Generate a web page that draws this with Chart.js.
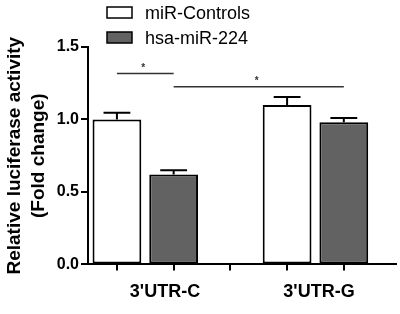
<!DOCTYPE html>
<html>
<head>
<meta charset="utf-8">
<script src="https://cdn.jsdelivr.net/npm/chart.js@4"></script>
<style>
    html, body { margin: 0; padding: 0; background: #fff; }
    #wrap { width: 400px; height: 314px; }
</style>
</head>
<body>
<div id="wrap"><canvas id="luciferaseChart"></canvas></div>
<script>
// Datos
const groups = ["3'UTR-C", "3'UTR-G"];
const seriesNames = ['miR-Controls', 'hsa-miR-224'];
const controlValues = [1.00, 1.10];
const controlErrors = [0.047, 0.055];
const mirValues = [0.62, 0.98];
const mirErrors = [0.03, 0.03];
const yTicks = [0, 0.5, 1.0, 1.5];
// Comparaciones significativas: [grupo, serie] -> [grupo, serie] y altura
const sigPairs = [
    { from: [0, 0], to: [0, 1], level: 1.318, mark: '*' },
    { from: [0, 1], to: [1, 1], level: 1.226, mark: '*' }
];

const FONT = 'Arial, "Liberation Sans", sans-serif';

// Posición de cada barra en el eje x (hueco vacío entre grupos)
function slotOf(g, s) {
    return g * 3 + s + 1;
}
const xSlots = Array.from({ length: groups.length * 3 - 1 }, (_, k) => k + 1);

// Barras de error (solo hacia arriba) y líneas de significancia
const errorBarsPlugin = {
    id: 'errorBars',
    afterDatasetsDraw(chart) {
        const ctx = chart.ctx;
        const y = chart.scales.y;
        chart.data.datasets.forEach(function (ds, di) {
            const meta = chart.getDatasetMeta(di);
            meta.data.forEach(function (bar, i) {
                const top = y.getPixelForValue(ds.data[i].y + ds.errors[i]);
                const half = bar.width * 0.275;
                ctx.save();
                ctx.strokeStyle = '#000';
                ctx.lineWidth = 2;
                ctx.beginPath();
                ctx.moveTo(bar.x, bar.y);
                ctx.lineTo(bar.x, top);
                ctx.moveTo(bar.x - half, top);
                ctx.lineTo(bar.x + half, top);
                ctx.stroke();
                ctx.restore();
            });
        });

        sigPairs.forEach(function (p) {
            const x1 = chart.getDatasetMeta(p.from[1]).data[p.from[0]].x;
            const x2 = chart.getDatasetMeta(p.to[1]).data[p.to[0]].x;
            const yy = y.getPixelForValue(p.level);
            ctx.save();
            ctx.strokeStyle = '#333';
            ctx.lineWidth = 1.5;
            ctx.beginPath();
            ctx.moveTo(x1, yy);
            ctx.lineTo(x2, yy);
            ctx.stroke();
            ctx.fillStyle = '#333';
            ctx.font = 'bold 10px ' + FONT;
            ctx.textAlign = 'center';
            ctx.textBaseline = 'middle';
            ctx.fillText(p.mark, (x1 + x2) / 2 - 2, yy - 5);
            ctx.restore();
        });
    }
};

// Leyenda dibujada arriba, en columna
const legendPlugin = {
    id: 'columnLegend',
    afterDraw(chart) {
        const ctx = chart.ctx;
        chart.data.datasets.forEach(function (ds, i) {
            const top = 7 + i * 25;
            ctx.save();
            ctx.fillStyle = ds.backgroundColor;
            ctx.fillRect(107, top, 25, 11);
            ctx.strokeStyle = '#000';
            ctx.lineWidth = 1.5;
            ctx.strokeRect(107, top, 25, 11);
            ctx.fillStyle = '#000';
            ctx.font = '18px ' + FONT;
            ctx.textAlign = 'left';
            ctx.textBaseline = 'alphabetic';
            ctx.fillText(ds.label, 145, top + 11.5);
            ctx.restore();
        });
    }
};

const ctx1 = document.getElementById('luciferaseChart').getContext('2d');
new Chart(ctx1, {
    type: 'bar',
    data: {
        datasets: [
            {
                label: seriesNames[0],
                data: controlValues.map(function (v, i) { return { x: slotOf(i, 0), y: v }; }),
                errors: controlErrors,
                backgroundColor: '#ffffff',
                borderColor: '#000',
                borderWidth: 2,
                borderSkipped: false
            },
            {
                label: seriesNames[1],
                data: mirValues.map(function (v, i) { return { x: slotOf(i, 1), y: v }; }),
                errors: mirErrors,
                backgroundColor: '#626262',
                borderColor: '#000',
                borderWidth: 2,
                borderSkipped: false
            }
        ]
    },
    options: {
        responsive: true,
        maintainAspectRatio: false,
        animation: false,
        grouped: false,
        categoryPercentage: 1,
        barPercentage: 0.86,
        layout: { padding: { top: 47, right: 4, bottom: 0, left: 0 } },
        plugins: {
            legend: { display: false },
            tooltip: { enabled: false }
        },
        scales: {
            x: {
                type: 'linear',
                min: 0.49,
                max: 5.92,
                offset: false,
                weight: 0,
                afterBuildTicks: function (axis) {
                    axis.ticks = xSlots.map(function (v) { return { value: v }; });
                },
                grid: { drawOnChartArea: false, offset: false, tickLength: 6, color: '#000', lineWidth: 2 },
                border: { color: '#000', width: 2 },
                ticks: { display: false }
            },
            x2: {
                type: 'category',
                labels: groups,
                position: 'bottom',
                offset: true,
                weight: 1,
                grid: { display: false, drawTicks: false },
                border: { display: false },
                ticks: { color: '#000', padding: 11, font: { family: FONT, size: 18, weight: 'bold' } }
            },
            y: {
                min: 0,
                max: 1.5,
                afterBuildTicks: function (axis) {
                    axis.ticks = yTicks.map(function (v) { return { value: v }; });
                },
                afterFit: function (axis) {
                    axis.width = 88;
                },
                grid: { drawOnChartArea: false, tickLength: 7, color: '#000', lineWidth: 2 },
                border: { color: '#000', width: 2 },
                ticks: {
                    color: '#000',
                    padding: 2,
                    font: { family: FONT, size: 16, weight: 'bold' },
                    callback: function (v) { return Number(v).toFixed(1); }
                },
                title: {
                    display: true,
                    text: ['Relative luciferase activity', '(Fold change)'],
                    color: '#000',
                    padding: { top: 3, bottom: 0 },
                    font: { family: FONT, size: 19, weight: 'bold', lineHeight: 1.263 }
                }
            }
        }
    },
    plugins: [errorBarsPlugin, legendPlugin]
});
</script>
</body>
</html>
